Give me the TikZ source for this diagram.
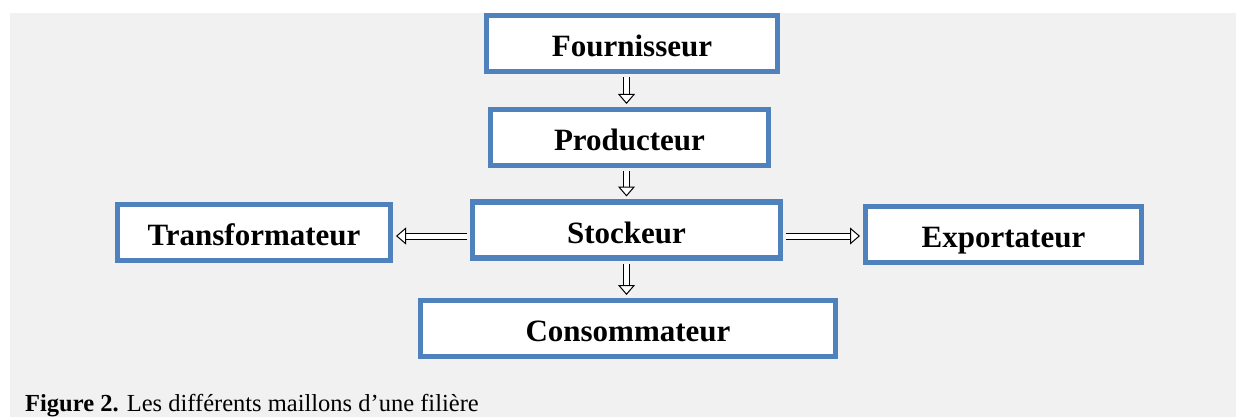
\documentclass[tikz,border=0pt]{standalone}
\usepackage{fontspec}
\setmainfont{Liberation Serif}
\usetikzlibrary{arrows.meta,positioning}
\definecolor{boxblue}{HTML}{4F81BD}
\definecolor{bggrey}{HTML}{F1F1F1}

\begin{document}
\begin{tikzpicture}[x=1pt,y=-1pt,
		maillon/.style={draw=boxblue, line width=5.5pt, fill=white, minimum height=56pt,
			font=\fontsize{31}{36}\selectfont\bfseries, text height=26.5pt, text depth=0pt, inner sep=0pt},
		flow/.style={double, double distance=5pt, line width=1pt,
			-{Triangle[length=10pt,width=17pt,fill=white,line width=1pt]},
			shorten <=2.75pt, shorten >=2.75pt}]
			\useasboundingbox (0,0) rectangle (1236,417);
			\fill[bggrey] (10,13) rectangle (1236,417);
			\node[maillon, minimum width=291pt] (four) at (632,43.5) {Fournisseur};
			\node[maillon, minimum width=278pt] (prod) at (629.5,137.5) {Producteur};
			\node[maillon, minimum width=308pt] (stock) at (626.5,230) {Stockeur};
			\node[maillon, minimum width=273pt] (trans) at (254,232.5) {Transformateur};
			\node[maillon, minimum width=276pt] (export) at (1003.5,234.5) {Exportateur};
			\node[maillon, minimum width=415pt] (cons) at (628,328.5) {Consommateur};
			\draw[flow] (four.south -| stock.center) to (prod.north -| stock.center);
			\draw[flow] (prod.south -| stock.center) to (stock.north);
			\draw[flow] (stock.south) to (cons.north -| stock.center);
			\draw[flow] ([yshift=-6pt]stock.west) to ([yshift=-6pt]stock.west -| trans.east);
			\draw[flow] ([yshift=-6pt]stock.east) to ([yshift=-6pt]stock.east -| export.west);
			\node[anchor=base west, inner sep=0pt, font=\fontsize{24.5}{28}\selectfont] (caption) at (25,411)
				{\textbf{Figure 2.} Les différents maillons d’une filière};
			\end{tikzpicture}
\end{document}
